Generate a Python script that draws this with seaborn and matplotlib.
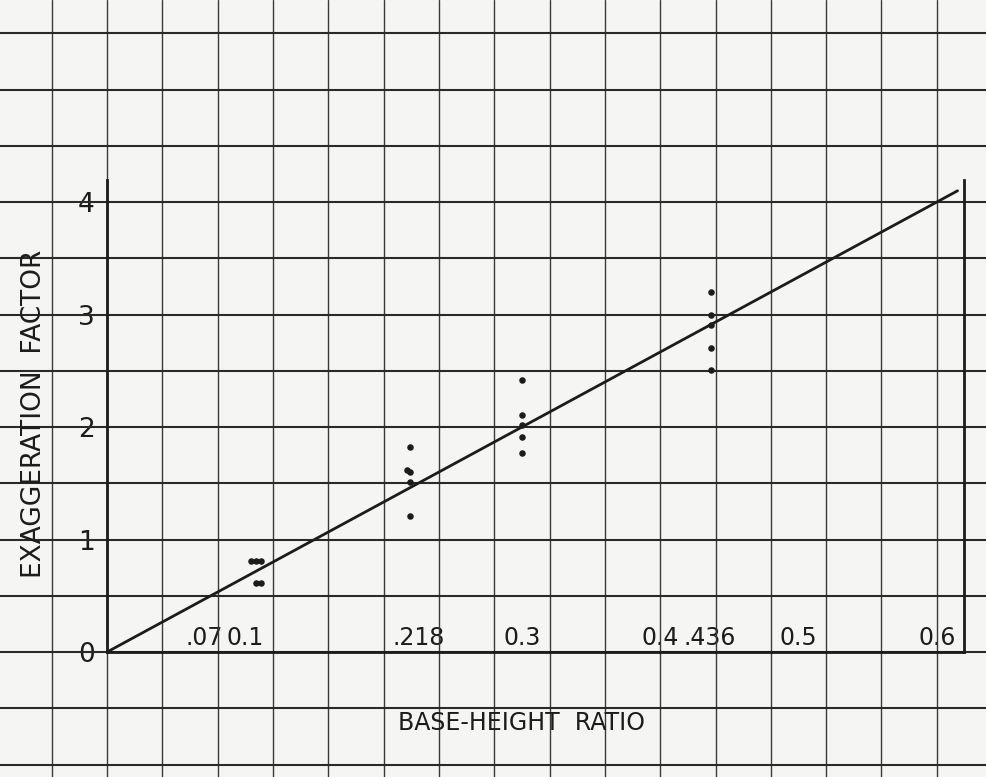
import numpy as np
import pandas as pd
import matplotlib
matplotlib.use('Agg')
from matplotlib import pyplot as plt
from matplotlib.ticker import MultipleLocator
from matplotlib.transforms import ScaledTranslation
import seaborn as sns

# --- 读图数据 ---
bh_values = [0.104, 0.108, 0.111, 0.108, 0.111,
             0.219, 0.217, 0.219, 0.219, 0.219,
             0.300, 0.300, 0.300, 0.300, 0.300,
             0.437, 0.437, 0.437, 0.437, 0.437]
ef_values = [0.81, 0.81, 0.81, 0.61, 0.61,
             1.82, 1.62, 1.60, 1.51, 1.21,
             2.42, 2.11, 2.02, 1.91, 1.77,
             3.20, 3.00, 2.91, 2.70, 2.51]
fit_bh = [0.0, 0.615]
fit_ef = [0.0, 4.10]

x_ticks = [0.07, 0.1, 0.218, 0.3, 0.4, 0.436, 0.5, 0.6]
x_ticklabels = ['.07', '0.1', '.218', '0.3', '0.4', '.436', '0.5', '0.6']
y_ticks = [0, 1, 2, 3, 4]
y_ticklabels = ['0', '1', '2', '3', '4']

sns.set_style('white')
plt.rcParams['font.family'] = ['DejaVu Sans']

ink = '#1c1c1c'
paper = '#f5f5f3'

fig = plt.figure(figsize=(9.87, 7.77), dpi=100, facecolor=paper)
ax = fig.add_axes([0, 0, 1, 1], facecolor=paper)

# 坐标纸网格（保留与主刻度重合的网格线）
ax.xaxis.remove_overlapping_locs = False
ax.yaxis.remove_overlapping_locs = False
ax.xaxis.set_minor_locator(MultipleLocator(0.04))
ax.yaxis.set_minor_locator(MultipleLocator(0.5))
ax.grid(axis='x', which='minor', color='#3a3a3a', lw=1.0)
ax.grid(axis='y', which='minor', color='#2a2a2a', lw=1.5)
ax.grid(which='major', visible=False)
ax.tick_params(which='minor', length=0)
ax.set_axisbelow(True)

df = pd.DataFrame({'bh': bh_values, 'ef': ef_values})
fit = pd.DataFrame({'bh': fit_bh, 'ef': fit_ef})
sns.lineplot(data=fit, x='bh', y='ef', color=ink, lw=2.0, ax=ax, zorder=3)
sns.scatterplot(data=df, x='bh', y='ef', color=ink, s=22, linewidth=0, ax=ax, zorder=4)

ax.set_xlim(-0.0774, 0.6363)
ax.set_ylim(-1.111, 5.796)

# 坐标轴
for side in ['left', 'bottom', 'right']:
    ax.spines[side].set_color(ink)
    ax.spines[side].set_linewidth(2.0)
    ax.spines[side].set_zorder(2.5)
ax.spines['top'].set_visible(False)
ax.spines['left'].set_position(('data', 0))
ax.spines['left'].set_bounds(0, 4.2)
ax.spines['bottom'].set_position(('data', 0))
ax.spines['bottom'].set_bounds(0, 0.62)
ax.spines['right'].set_position(('data', 0.62))
ax.spines['right'].set_bounds(0, 4.2)

ax.set_xticks(x_ticks, x_ticklabels)
ax.set_yticks(y_ticks, y_ticklabels)
ax.tick_params(axis='x', which='major', direction='in', length=5, width=1.4,
               color=ink, labelcolor=ink, labelsize=17, pad=-19)
ax.tick_params(axis='y', which='major', direction='out', length=6, width=1.4,
               color=ink, labelcolor=ink, labelsize=19, pad=3)
ax.tick_params(axis='y', which='major', right=False)

# .218 的标注在原图中略偏右
lbl = ax.get_xticklabels()[2]
lbl.set_transform(lbl.get_transform() + ScaledTranslation(0.1, 0, fig.dpi_scale_trans))

ax.set_xlabel('BASE-HEIGHT  RATIO', fontsize=17, color=ink)
ax.set_ylabel('EXAGGERATION  FACTOR', fontsize=19, color=ink)
ax.xaxis.set_label_coords(0.528, 0.085)
ax.yaxis.set_label_coords(0.048, 0.468)

fig.savefig('out.png', dpi=100, facecolor=paper)
